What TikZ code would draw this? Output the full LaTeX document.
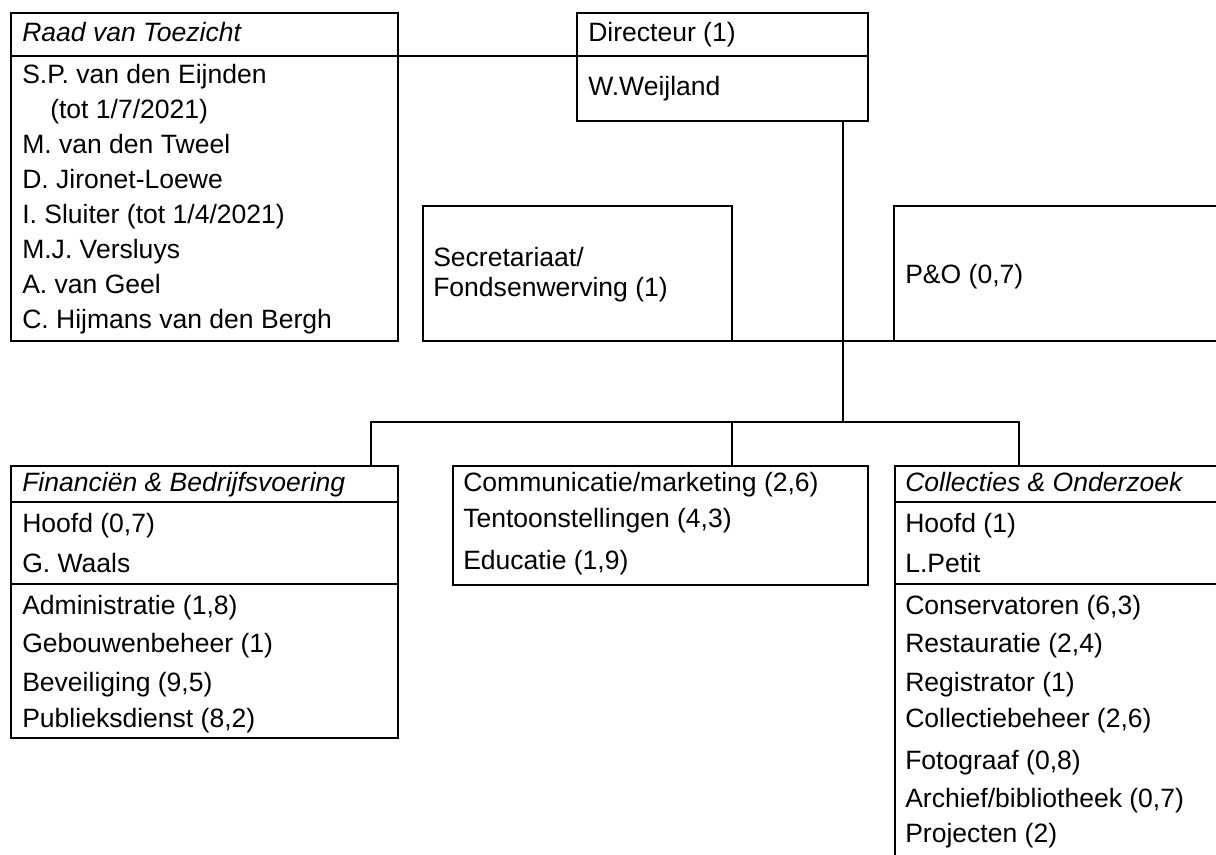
\documentclass[tikz,border=0pt]{standalone}
\usepackage{fontspec}
\setmainfont{Liberation Sans}
\begin{document}
\begin{tikzpicture}[x=0.75pt, y=-0.75pt,
    box/.style={draw, line width=2.2pt, inner sep=0pt, outer sep=0pt, anchor=north west},
    lbl/.style={anchor=base west, inner sep=0pt, font=\fontsize{19.9}{24}\selectfont},
    hdr/.style={lbl, font=\fontsize{19.9}{24}\selectfont\itshape},
    link/.style={line width=2.2pt}]
    \useasboundingbox (0,0) rectangle (1216,855);

    % raad van toezicht
    \node[box, minimum width=290.25pt, minimum height=32.25pt] (raadhd) at (11,13) {};
    \node[box, minimum width=290.25pt, minimum height=213.75pt] (raad) at (11,56) {};
    \node[hdr] (raadt) at (22,42) {Raad van Toezicht};
    \node[lbl] (raad1) at (22,84) {S.P. van den Eijnden};
    \node[lbl] (raad1b) at (50,119) {(tot 1/7/2021)};
    \node[lbl] (raad2) at (22,154) {M. van den Tweel};
    \node[lbl] (raad3) at (22,189) {D. Jironet-Loewe};
    \node[lbl] (raad4) at (22,224) {I. Sluiter (tot 1/4/2021)};
    \node[lbl] (raad5) at (22,259) {M.J. Versluys};
    \node[lbl] (raad6) at (22,294) {A. van Geel};
    \node[lbl] (raad7) at (22,329) {C. Hijmans van den Bergh};

    % directeur
    \node[box, minimum width=218.25pt, minimum height=32.25pt] (dirhd) at (577,13) {};
    \node[box, minimum width=218.25pt, minimum height=48.75pt] (dir) at (577,56) {};
    \node[lbl] (dirt) at (588,42) {Directeur (1)};
    \node[lbl] (dir1) at (588,96) {W.Weijland};

    % staf
    \node[box, minimum width=231.75pt, minimum height=101.25pt] (secr) at (423,206) {};
    \node[lbl] (secr1) at (433,267) {Secretariaat/};
    \node[lbl] (secr2) at (433,297) {Fondsenwerving (1)};
    \node[box, minimum width=252pt, minimum height=101.25pt] (po) at (894,206) {};
    \node[lbl] (po1) at (905,284) {P\&O (0,7)};

    % financien & bedrijfsvoering
    \node[box, minimum width=290.25pt, minimum height=27pt] (finhd) at (11,466) {};
    \node[box, minimum width=290.25pt, minimum height=61.5pt] (finmid) at (11,502) {};
    \node[box, minimum width=290.25pt, minimum height=115.5pt] (fin) at (11,584) {};
    \node[hdr] (fint) at (22,491) {Financiën \& Bedrijfsvoering};
    \node[lbl] (fin1) at (22,532) {Hoofd (0,7)};
    \node[lbl] (fin2) at (22,572) {G. Waals};
    \node[lbl] (fin3) at (22,614) {Administratie (1,8)};
    \node[lbl] (fin4) at (22,652) {Gebouwenbeheer (1)};
    \node[lbl] (fin5) at (22,691) {Beveiliging (9,5)};
    \node[lbl] (fin6) at (22,727) {Publieksdienst (8,2)};

    % communicatie
    \node[box, minimum width=311.25pt, minimum height=89.25pt] (comm) at (453,466) {};
    \node[lbl] (comm1) at (463,491) {Communicatie/marketing (2,6)};
    \node[lbl] (comm2) at (463,527) {Tentoonstellingen (4,3)};
    \node[lbl] (comm3) at (463,569) {Educatie (1,9)};

    % collecties & onderzoek
    \node[box, minimum width=251.25pt, minimum height=27pt] (collhd) at (895,466) {};
    \node[box, minimum width=251.25pt, minimum height=61.5pt] (collmid) at (895,502) {};
    \node[box, minimum width=251.25pt, minimum height=214.5pt] (coll) at (895,584) {};
    \node[hdr] (collt) at (905,491) {Collecties \& Onderzoek};
    \node[lbl] (coll1) at (905,532) {Hoofd (1)};
    \node[lbl] (coll2) at (905,572) {L.Petit};
    \node[lbl] (coll3) at (905,614) {Conservatoren (6,3)};
    \node[lbl] (coll4) at (905,652) {Restauratie (2,4)};
    \node[lbl] (coll5) at (905,691) {Registrator (1)};
    \node[lbl] (coll6) at (905,727) {Collectiebeheer (2,6)};
    \node[lbl] (coll7) at (905,769) {Fotograaf (0,8)};
    \node[lbl] (coll8) at (905,807) {Archief/bibliotheek (0,7)};
    \node[lbl] (coll9) at (905,842) {Projecten (2)};

    % lijnen
    \coordinate (bus) at (843,422);
    \coordinate (busL) at (371,422);
    \coordinate (busM) at (732,422);
    \coordinate (busR) at (1019,422);
    \draw[link] (raadhd.south east) -- (dirhd.south west);
    \draw[link] (dir.south -| bus) -- (bus);
    \draw[link] (secr.south east) -- (po.south west);
    \draw[link] (busL |- finhd.north) -- (busL) -- (busR) -- (busR |- collhd.north);
    \draw[link] (busM) -- (busM |- comm.north);
\end{tikzpicture}
\end{document}
